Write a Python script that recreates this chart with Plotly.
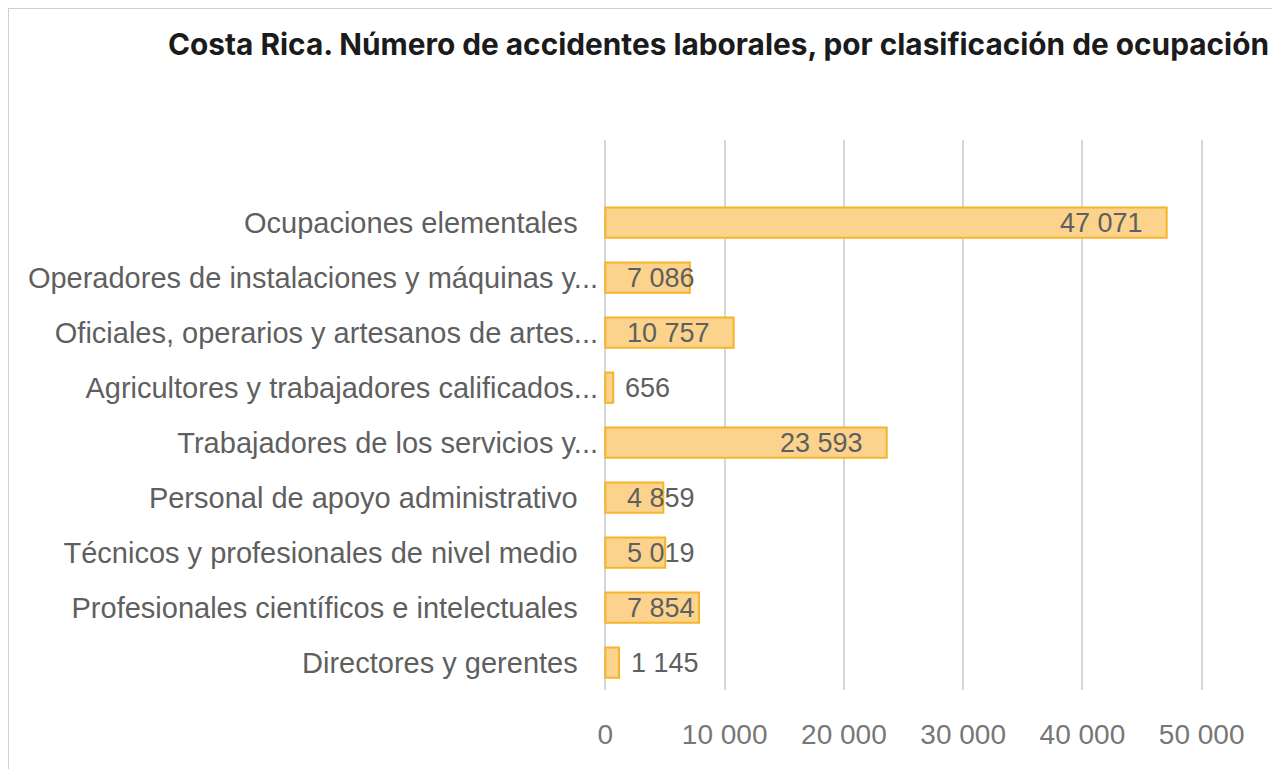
import plotly.graph_objects as go

# categories listed bottom-to-top, as drawn on the axis
categorias = [
    "Directores y gerentes",
    "Profesionales científicos e intelectuales",
    "Técnicos y profesionales de nivel medio",
    "Personal de apoyo administrativo",
    "Trabajadores de los servicios y...",
    "Agricultores y trabajadores calificados...",
    "Oficiales, operarios y artesanos de artes...",
    "Operadores de instalaciones y máquinas y...",
    "Ocupaciones elementales",
]
accidentes = [1145, 7854, 5019, 4859, 23593, 656, 10757, 7086, 47071]
ticks_x = [0, 10000, 20000, 30000, 40000, 50000]

GRIS = "#5f5f5f"
FONT = "Liberation Sans"

# Excel leaves a little more room after the untruncated labels
etiquetas = [c if c.endswith("...") else c + "\u2002\u2009" for c in categorias]

fig = go.Figure()
fig.add_trace(go.Bar(
    y=categorias, x=accidentes, orientation="h", width=0.55,
    marker=dict(color="#FBD38C", line=dict(color="#F6B42A", width=2)),
    hoverinfo="x+y"))

# data labels: inside end for long bars, from the base for short ones
for cat, v in zip(categorias, accidentes):
    txt = f"{v:,}".replace(",", " ")
    if v < 2000:
        pos = dict(x=v, xanchor="left", xshift=10)
    elif v < 15000:
        pos = dict(x=0, xanchor="left", xshift=20)
    else:
        pos = dict(x=v, xanchor="right", xshift=-22)
    fig.add_annotation(y=cat, text=txt, showarrow=False, yanchor="middle",
                       font=dict(family=FONT, size=27, color=GRIS), **pos)

# page body adds 8px, so margins are shifted by that much
fig.update_layout(
    width=1280, height=769,
    paper_bgcolor="white", plot_bgcolor="white",
    margin=dict(l=595, r=84, t=132, b=87),
    showlegend=False, bargap=0.45,
    title=dict(text="<b>Costa Rica. Número de accidentes laborales, por clasificación de ocupación</b>",
               xref="container", x=160/1280, xanchor="left",
               yref="container", y=1-37/769, yanchor="middle",
               font=dict(family="Inter", size=29.8, color="#1b1b1b")),
    xaxis=dict(range=[-200, 50200], tickvals=ticks_x, tickformat=",d",
               showgrid=True, gridcolor="#d6d6d6", gridwidth=2,
               zeroline=True, zerolinecolor="#d6d6d6", zerolinewidth=2,
               showline=False, ticks="", automargin=False,
               ticklabelstandoff=25,
               tickfont=dict(family=FONT, size=28, color="#777777")),
    yaxis=dict(type="category", categoryarray=categorias, range=[-0.5, 9.5],
               tickvals=categorias, ticktext=etiquetas,
               showgrid=False, zeroline=False, showline=False, ticks="",
               automargin=False, ticklabelstandoff=4,
               tickfont=dict(family=FONT, size=29, color=GRIS)),
    separators=". ",
    shapes=[dict(type="rect", xref="paper", yref="paper",
                 x0=-595/601, x1=1.3, y0=-0.5, y1=(690-8)/550,
                 line=dict(color="#d0d0d0", width=2), layer="below")],
)

fig.write_html("out.html")
